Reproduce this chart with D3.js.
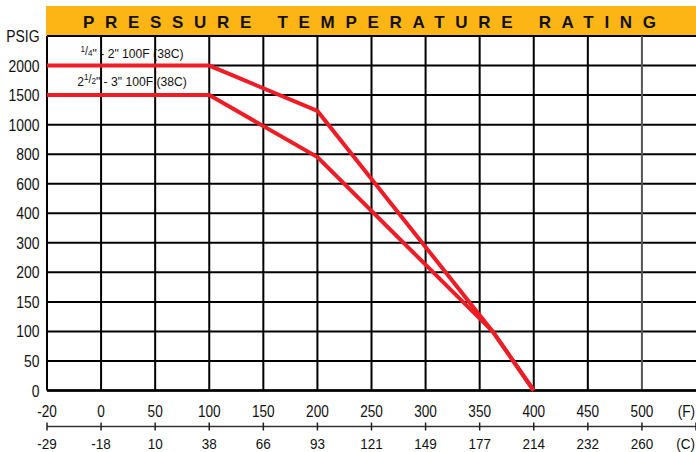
<!DOCTYPE html>
<html>
<head>
<meta charset="utf-8">
<script src="https://cdn.jsdelivr.net/npm/d3@7/dist/d3.min.js"></script>
<style>
  html, body { margin: 0; padding: 0; background: #fff; }
  svg { display: block; font-family: "Liberation Sans", Arial, Helvetica, sans-serif; }
</style>
</head>
<body>
<svg id="chart" width="696" height="452"></svg>
<script>
// ---- data ----
const title = "PRESSURE TEMPERATURE RATING";
const fTicks = [-20, 0, 50, 100, 150, 200, 250, 300, 350, 400, 450, 500];
const fLabels = ["-20", "0", "50", "100", "150", "200", "250", "300", "350", "400", "450", "500", "(F)"];
const cLabels = ["-29", "-18", "10", "38", "66", "93", "121", "149", "177", "214", "232", "260", "(C)"];
const pTicks = [0, 50, 100, 150, 200, 300, 400, 600, 800, 1000, 1500, 2000];
const pLabels = ["0", "50", "100", "150", "200", "300", "400", "600", "800", "1000", "1500", "2000", "PSIG"];
const seriesSmall = [  // temperature F, pressure PSIG
  [[-20, 2000], [100, 2000], [200, 1232], [362, 100], [400, 0]]
];
const seriesLarge = [
  [[-20, 1500], [100, 1500], [200, 780], [362, 100], [400, 0]]
];

// ---- layout ----
const svg = d3.select("#chart");
const pLeft = 47, pRight = 696, pTop = 36, pBottom = 390.5;

const xPoint = d3.scalePoint().domain(fLabels).range([pLeft, pRight]);
const yPoint = d3.scalePoint().domain(pLabels).range([pBottom, pTop]);
// value scales built from tick positions (the chart's axes are not linear)
const xVal = d3.scaleLinear().domain(fTicks).range(fTicks.map(d => xPoint(String(d))));
const yVal = d3.scaleLinear().domain(pTicks).range(pTicks.map(d => yPoint(String(d))));

const condensed = 0.87;
function label(g, x, y, txt, size, anchor, sx) {
  return g.append("text")
    .attr("transform", `translate(${x},${y}) scale(${sx || condensed},1)`)
    .attr("text-anchor", anchor)
    .attr("font-size", size)
    .attr("fill", "#111")
    .text(txt);
}
// unit labels sit at the right edge: keep them inside the picture
const lastIdx = fLabels.length - 1;
const lblX = (i) => i === lastIdx ? pRight - 1 : xPoint(fLabels[i]);
const lblAnchor = (i) => i === lastIdx ? "end" : "middle";

// title bar
svg.append("rect").attr("x", 46).attr("y", 6).attr("width", 650).attr("height", 29.5).attr("fill", "#FDB515");
svg.append("text")
  .attr("x", 83).attr("y", 28.3)
  .attr("font-size", 17).attr("font-weight", "bold").attr("fill", "#111")
  .attr("textLength", 573).attr("lengthAdjust", "spacing")
  .text(title);

// grid
const grid = svg.append("g");
grid.selectAll("line.h").data(pLabels).join("line")
  .attr("x1", pLeft).attr("x2", pRight)
  .attr("y1", d => yPoint(d)).attr("y2", d => yPoint(d))
  .attr("stroke", "#000").attr("stroke-width", 2);
grid.selectAll("line.v").data(fLabels.slice(0, -1)).join("line")
  .attr("x1", d => xPoint(d)).attr("x2", d => xPoint(d))
  .attr("y1", pTop).attr("y2", pBottom)
  .attr("stroke", d => d === "500" ? "#555" : "#000").attr("stroke-width", 2);
grid.append("line").attr("x1", pLeft).attr("x2", pRight).attr("y1", pBottom).attr("y2", pBottom)
  .attr("stroke", "#000").attr("stroke-width", 2.5);

// y labels
const yl = svg.append("g");
pLabels.forEach(d => label(yl, 39.5, yPoint(d) + 6, d, 16, "end"));

// x labels (F)
const xl = svg.append("g");
fLabels.forEach((d, i) => label(xl, lblX(i), 417, d, 16, lblAnchor(i), 0.85));

// Celsius axis
const cAxisY = 426.5;
const cax = svg.append("g");
cax.append("line").attr("x1", pLeft).attr("x2", pRight).attr("y1", cAxisY).attr("y2", cAxisY)
  .attr("stroke", "#333").attr("stroke-width", 1.5);
cax.selectAll("line.t").data(fLabels).join("line")
  .attr("x1", d => xPoint(d)).attr("x2", d => xPoint(d))
  .attr("y1", cAxisY - 4).attr("y2", cAxisY + 4)
  .attr("stroke", "#222").attr("stroke-width", 1.5);
cLabels.forEach((d, i) => label(cax, lblX(i), 448.5, d, 15.5, lblAnchor(i), 0.87));

// data lines
const line = d3.line().x(d => xVal(d[0])).y(d => yVal(d[1]));
svg.append("g").selectAll("path").data(seriesSmall.concat(seriesLarge)).join("path")
  .attr("d", line)
  .attr("fill", "none").attr("stroke", "#EE1C25").attr("stroke-width", 4)
  .attr("stroke-linejoin", "miter");

// annotations with fractions
function fracLabel(x, y, whole, num, den, rest) {
  const t = svg.append("text")
    .attr("transform", `translate(${x},${y}) scale(0.9,1)`)
    .attr("text-anchor", "middle").attr("font-size", 13.5).attr("fill", "#111");
  if (whole) t.append("tspan").text(whole);
  t.append("tspan").attr("font-size", 9).attr("dy", -6).text(num);
  t.append("tspan").attr("font-size", 12).attr("dy", 3).text("/");
  t.append("tspan").attr("font-size", 9).attr("dy", 1).text(den);
  t.append("tspan").attr("dy", 2).text(rest);
}
fracLabel(132, 57.5, "", "1", "4", "\" - 2\" 100F (38C)");
fracLabel(132, 86, "2", "1", "2", "\" - 3\" 100F (38C)");
</script>
</body>
</html>
